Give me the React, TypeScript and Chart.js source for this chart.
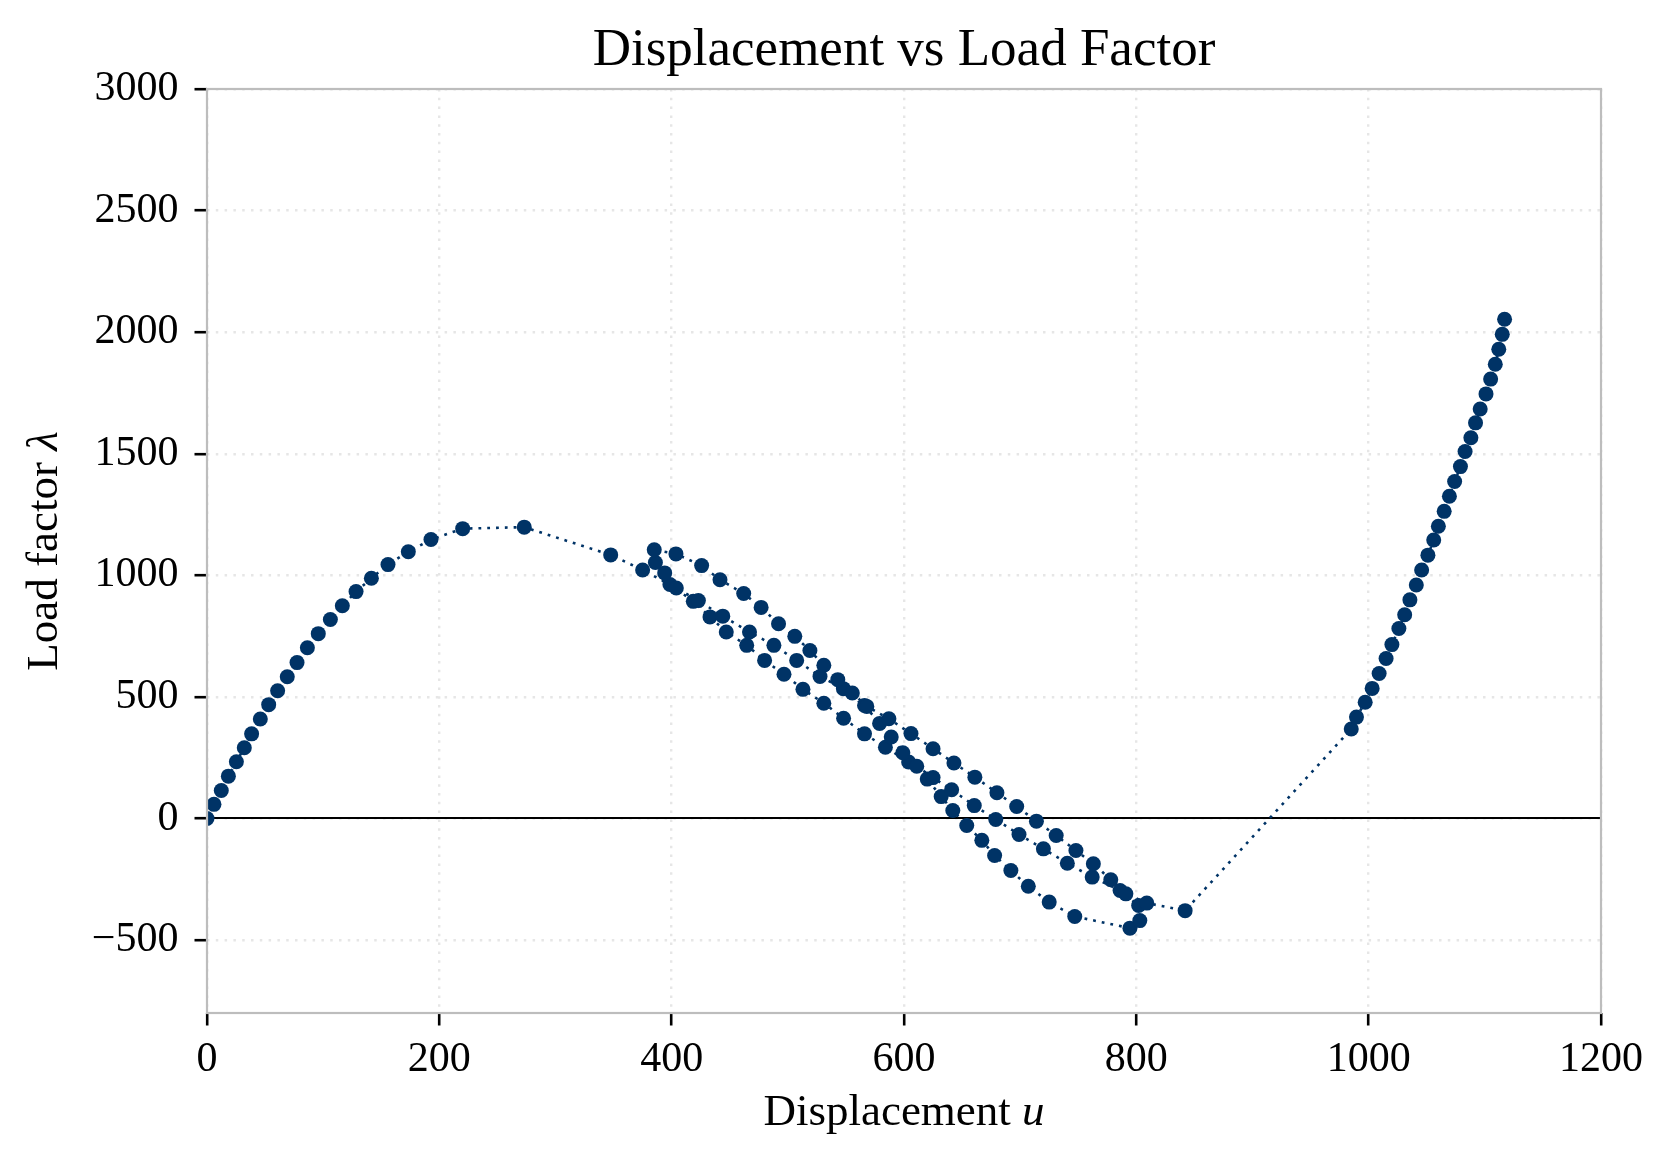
import React, { useEffect, useRef } from 'react';
import { Chart, registerables } from 'chart.js';

Chart.register(...registerables);

// ---- data ----
// initial rising branch up to the first limit point
const uRise = [0, 6, 12.3, 18.4, 25.3, 32.1, 38.4, 45.9, 53.1, 60.8, 69.1, 77.5, 86.4, 95.8, 106.2, 116.5, 128.3, 141.5, 155.8, 173.3, 192.8, 220.1, 273.1, 347.5];
const lamRise = [0, 58, 115, 174, 233, 291, 348, 409, 468, 525, 583, 641, 702, 760, 818, 875, 933, 988, 1044, 1097, 1147, 1192, 1198, 1084];

// lower softening band (descending)
const uLower = [375, 398.5, 418.6, 433, 447, 464.6, 480, 496.7, 513, 531, 548, 566, 584, 604, 620, 632, 642, 654, 667, 678, 692, 707, 725, 747, 794.5, 803];
const lamLower = [1022, 962, 893, 829, 767, 712, 650, 593, 531, 474, 412, 348, 293, 232, 162, 90, 33, -29, -90, -152, -214, -279, -344, -403, -451, -420];

// middle band (ascending back)
const uMiddle = [802, 786, 762, 740.6, 720, 699, 679, 660.5, 641, 625, 611, 599, 589, 579, 566, 547.8, 527.7, 507.6, 488, 467, 444, 423, 404, 394, 386, 385];
const lamMiddle = [-358, -296, -241, -184, -125, -66, -4, 53, 118, 168, 215, 270, 335, 391, 465, 534, 584, 650, 712, 767, 832, 896, 948, 1010, 1053, 1105];

// upper band (descending again)
const uUpper = [403.7, 425.8, 441.6, 462, 477, 492, 506, 519, 531, 543, 555.5, 568, 587, 606, 625, 643, 661, 680, 697, 714, 731, 748, 763, 778, 791, 809, 842];
const lamUpper = [1088, 1040, 982, 925, 868, 801, 749, 691, 630, 571, 516, 461, 410, 349, 287, 228, 170, 106, 49, -11, -70, -132, -186, -252, -310, -348, -379];

// stiffening branch after the jump
const uStiff = [985, 989.5, 997, 1003, 1009, 1015, 1020, 1026, 1031, 1035.5, 1041, 1045.6, 1051, 1056, 1060, 1065, 1069.5, 1074, 1079, 1083, 1088, 1092, 1096, 1101, 1105, 1109, 1112, 1115, 1117];
const lamStiff = [368, 417, 478, 535, 596, 658, 715, 781, 838, 899, 960, 1022, 1083, 1145, 1202, 1263, 1325, 1386, 1447, 1509, 1566, 1627, 1684, 1746, 1807, 1868, 1930, 1991, 2053];

const xTickValues = [0, 200, 400, 600, 800, 1000, 1200];
const yTickValues = [-500, 0, 500, 1000, 1500, 2000, 2500, 3000];

const TITLE = 'Displacement vs Load Factor';
const X_LABEL = ['Displacement ', 'u'];
const Y_LABEL = ['Load factor ', 'λ'];

// ---- styles ----
const W = 1673;
const H = 1163;
const NAVY = '#003366';
const SERIF = "'Liberation Serif', 'DejaVu Serif', serif";
const PLOT = { left: 207, right: 1601, top: 89, bottom: 1013 };

function drawMixed(ctx: CanvasRenderingContext2D, parts: string[], size: number, cx: number, cy: number) {
  const fonts = [`${size}px ${SERIF}`, `italic ${size}px ${SERIF}`];
  let total = 0;
  const widths = parts.map((p, i) => {
    ctx.font = fonts[i];
    const w = ctx.measureText(p).width;
    total += w;
    return w;
  });
  let x = cx - total / 2;
  ctx.textBaseline = 'middle';
  ctx.textAlign = 'left';
  parts.forEach((p, i) => {
    ctx.font = fonts[i];
    ctx.fillText(p, x, cy);
    x += widths[i];
  });
}

const decorPlugin = {
  id: 'decor',
  beforeDatasetsDraw(chart: any) {
    const { ctx, chartArea, scales } = chart;
    const y0 = Math.round(scales.y.getPixelForValue(0));
    ctx.save();
    ctx.strokeStyle = '#000000';
    ctx.lineWidth = 2;
    ctx.setLineDash([]);
    ctx.beginPath();
    ctx.moveTo(chartArea.left, y0);
    ctx.lineTo(chartArea.right, y0);
    ctx.stroke();
    ctx.restore();
  },
  afterDraw(chart: any) {
    const { ctx, chartArea } = chart;
    ctx.save();
    ctx.strokeStyle = '#bdbdbd';
    ctx.lineWidth = 2.2;
    ctx.setLineDash([]);
    ctx.strokeRect(chartArea.left, chartArea.top, chartArea.right - chartArea.left, chartArea.bottom - chartArea.top);
    ctx.fillStyle = '#000000';
    const cx = (chartArea.left + chartArea.right) / 2;
    const cy = (chartArea.top + chartArea.bottom) / 2;
    // title
    ctx.font = `53px ${SERIF}`;
    ctx.textAlign = 'center';
    ctx.textBaseline = 'middle';
    ctx.fillText(TITLE, cx, 51);
    // x label
    drawMixed(ctx, X_LABEL, 45, cx, 1113);
    // y label
    ctx.translate(45, cy);
    ctx.rotate(-Math.PI / 2);
    drawMixed(ctx, Y_LABEL, 45, 0, 0);
    ctx.restore();
  },
};

function fmt(v: number) {
  return v < 0 ? '\u2212' + Math.abs(v) : String(v);
}

export default function App() {
  const ref = useRef<HTMLCanvasElement>(null);

  useEffect(() => {
    const canvas = ref.current;
    if (!canvas) return;
    const u = [...uRise, ...uLower, ...uMiddle, ...uUpper, ...uStiff];
    const lam = [...lamRise, ...lamLower, ...lamMiddle, ...lamUpper, ...lamStiff];
    const points = u.map((x, i) => ({ x, y: lam[i] }));

    const tickFont = { family: SERIF, size: 42 };
    const gridCommon = {
      color: '#e6e6e6',
      lineWidth: 2.4,
      drawTicks: true,
      tickLength: 12.5,
      tickColor: '#000000',
      tickWidth: 2.6,
    };

    const chart = new Chart(canvas, {
      type: 'scatter',
      data: {
        datasets: [
          {
            data: points,
            showLine: true,
            borderColor: NAVY,
            borderWidth: 2.6,
            borderDash: [2.8, 6],
            backgroundColor: NAVY,
            pointBackgroundColor: NAVY,
            pointBorderWidth: 0,
            pointRadius: 7.5,
            pointHoverRadius: 7.5,
            tension: 0,
          },
        ],
      },
      options: {
        responsive: false,
        animation: false,
        devicePixelRatio: 1,
        events: [],
        layout: { padding: { left: 0, right: W - PLOT.right, top: PLOT.top, bottom: 0 } },
        plugins: {
          legend: { display: false },
          tooltip: { enabled: false },
          title: { display: false },
        },
        scales: {
          x: {
            type: 'linear',
            min: 0,
            max: 1200,
            afterBuildTicks: (s: any) => {
              s.ticks = xTickValues.map((v) => ({ value: v }));
            },
            afterFit: (s: any) => {
              s.height = H - PLOT.bottom;
            },
            ticks: {
              color: '#000000',
              font: tickFont,
              padding: 9,
              maxRotation: 0,
              autoSkip: false,
              callback: (v: any) => fmt(Number(v)),
            },
            grid: gridCommon,
            border: { display: false, dash: [2.5, 6.3] },
          },
          y: {
            type: 'linear',
            min: -800,
            max: 3000,
            afterBuildTicks: (s: any) => {
              s.ticks = yTickValues.map((v) => ({ value: v }));
            },
            afterFit: (s: any) => {
              s.width = PLOT.left;
            },
            ticks: {
              color: '#000000',
              font: tickFont,
              padding: 16,
              autoSkip: false,
              callback: (v: any) => fmt(Number(v)),
            },
            grid: gridCommon,
            border: { display: false, dash: [2.5, 6.3] },
          },
        },
      },
      plugins: [decorPlugin],
    } as any);

    return () => chart.destroy();
  }, []);

  return (
    <div style={{ position: 'fixed', left: 0, top: 0, width: W, height: H, background: '#ffffff' }}>
      <canvas ref={ref} width={W} height={H} style={{ width: W, height: H, display: 'block' }} />
    </div>
  );
}
